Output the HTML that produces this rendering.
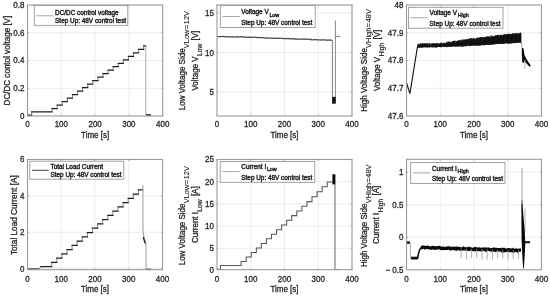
<!DOCTYPE html><html><head><meta charset="utf-8"><style>html,body{margin:0;padding:0;background:#fff;width:550px;height:297px;overflow:hidden}svg{display:block;filter:blur(0.35px)}</style></head><body><svg width="550" height="297" viewBox="0 0 550 297">
<style>.t{font-family:"Liberation Sans", sans-serif;font-size:8.6px;fill:#262626;stroke:#262626;stroke-width:0.3px} .lg{font-family:"Liberation Sans", sans-serif;font-size:6.4px;fill:#262626;stroke:#262626;stroke-width:0.42px} .sb{font-size:5.4px}</style>
<rect width="550" height="297" fill="#fff"/>
<line x1="61.30" y1="5.0" x2="61.30" y2="116.0" stroke="#e9e9e9" stroke-width="0.8"/>
<line x1="95.10" y1="5.0" x2="95.10" y2="116.0" stroke="#e9e9e9" stroke-width="0.8"/>
<line x1="128.90" y1="5.0" x2="128.90" y2="116.0" stroke="#e9e9e9" stroke-width="0.8"/>
<line x1="27.5" y1="88.25" x2="162.7" y2="88.25" stroke="#e9e9e9" stroke-width="0.8"/>
<line x1="27.5" y1="60.50" x2="162.7" y2="60.50" stroke="#e9e9e9" stroke-width="0.8"/>
<line x1="27.5" y1="32.75" x2="162.7" y2="32.75" stroke="#e9e9e9" stroke-width="0.8"/>
<line x1="250.75" y1="5.0" x2="250.75" y2="116.0" stroke="#e9e9e9" stroke-width="0.8"/>
<line x1="284.50" y1="5.0" x2="284.50" y2="116.0" stroke="#e9e9e9" stroke-width="0.8"/>
<line x1="318.25" y1="5.0" x2="318.25" y2="116.0" stroke="#e9e9e9" stroke-width="0.8"/>
<line x1="217.0" y1="92.21" x2="352.0" y2="92.21" stroke="#e9e9e9" stroke-width="0.8"/>
<line x1="217.0" y1="52.57" x2="352.0" y2="52.57" stroke="#e9e9e9" stroke-width="0.8"/>
<line x1="217.0" y1="12.93" x2="352.0" y2="12.93" stroke="#e9e9e9" stroke-width="0.8"/>
<line x1="440.25" y1="5.0" x2="440.25" y2="116.0" stroke="#e9e9e9" stroke-width="0.8"/>
<line x1="474.00" y1="5.0" x2="474.00" y2="116.0" stroke="#e9e9e9" stroke-width="0.8"/>
<line x1="507.75" y1="5.0" x2="507.75" y2="116.0" stroke="#e9e9e9" stroke-width="0.8"/>
<line x1="406.5" y1="88.25" x2="541.5" y2="88.25" stroke="#e9e9e9" stroke-width="0.8"/>
<line x1="406.5" y1="60.50" x2="541.5" y2="60.50" stroke="#e9e9e9" stroke-width="0.8"/>
<line x1="406.5" y1="32.75" x2="541.5" y2="32.75" stroke="#e9e9e9" stroke-width="0.8"/>
<line x1="61.25" y1="159.5" x2="61.25" y2="269.7" stroke="#e9e9e9" stroke-width="0.8"/>
<line x1="95.00" y1="159.5" x2="95.00" y2="269.7" stroke="#e9e9e9" stroke-width="0.8"/>
<line x1="128.75" y1="159.5" x2="128.75" y2="269.7" stroke="#e9e9e9" stroke-width="0.8"/>
<line x1="27.5" y1="268.60" x2="162.5" y2="268.60" stroke="#e9e9e9" stroke-width="0.8"/>
<line x1="27.5" y1="232.20" x2="162.5" y2="232.20" stroke="#e9e9e9" stroke-width="0.8"/>
<line x1="27.5" y1="195.90" x2="162.5" y2="195.90" stroke="#e9e9e9" stroke-width="0.8"/>
<line x1="250.75" y1="159.5" x2="250.75" y2="269.7" stroke="#e9e9e9" stroke-width="0.8"/>
<line x1="284.50" y1="159.5" x2="284.50" y2="269.7" stroke="#e9e9e9" stroke-width="0.8"/>
<line x1="318.25" y1="159.5" x2="318.25" y2="269.7" stroke="#e9e9e9" stroke-width="0.8"/>
<line x1="217.0" y1="248.30" x2="352.0" y2="248.30" stroke="#e9e9e9" stroke-width="0.8"/>
<line x1="217.0" y1="226.10" x2="352.0" y2="226.10" stroke="#e9e9e9" stroke-width="0.8"/>
<line x1="217.0" y1="203.90" x2="352.0" y2="203.90" stroke="#e9e9e9" stroke-width="0.8"/>
<line x1="217.0" y1="181.60" x2="352.0" y2="181.60" stroke="#e9e9e9" stroke-width="0.8"/>
<line x1="440.25" y1="159.3" x2="440.25" y2="269.8" stroke="#e9e9e9" stroke-width="0.8"/>
<line x1="474.00" y1="159.3" x2="474.00" y2="269.8" stroke="#e9e9e9" stroke-width="0.8"/>
<line x1="507.75" y1="159.3" x2="507.75" y2="269.8" stroke="#e9e9e9" stroke-width="0.8"/>
<line x1="406.5" y1="237.30" x2="541.5" y2="237.30" stroke="#e9e9e9" stroke-width="0.8"/>
<line x1="406.5" y1="204.80" x2="541.5" y2="204.80" stroke="#e9e9e9" stroke-width="0.8"/>
<line x1="406.5" y1="172.30" x2="541.5" y2="172.30" stroke="#e9e9e9" stroke-width="0.8"/>
<path d="M31.70,115.10 V111.90 M52.10,111.90 V108.50 M57.19,108.50 V105.02 M62.28,105.02 V101.54 M67.37,101.54 V98.06 M72.46,98.06 V94.58 M77.55,94.58 V91.10 M82.63,91.10 V87.62 M87.72,87.62 V84.14 M92.81,84.14 V80.66 M97.90,80.66 V77.18 M102.99,77.18 V73.70 M108.08,73.70 V70.22 M113.17,70.22 V66.74 M118.26,66.74 V63.26 M123.35,63.26 V59.78 M128.44,59.78 V56.30 M133.52,56.30 V52.82 M138.61,52.82 V49.34 M143.70,49.34 V45.86" fill="none" stroke="#7a7a7a" stroke-width="0.85" stroke-linejoin="miter" />
<path d="M27.60,115.10 H31.70 M31.70,111.90 H52.10 M52.10,108.50 H57.19 M57.19,105.02 H62.28 M62.28,101.54 H67.37 M67.37,98.06 H72.46 M72.46,94.58 H77.55 M77.55,91.10 H82.63 M82.63,87.62 H87.72 M87.72,84.14 H92.81 M92.81,80.66 H97.90 M97.90,77.18 H102.99 M102.99,73.70 H108.08 M108.08,70.22 H113.17 M113.17,66.74 H118.26 M118.26,63.26 H123.35 M123.35,59.78 H128.44 M128.44,56.30 H133.52 M133.52,52.82 H138.61 M138.61,49.34 H143.70 M143.70,45.86 H145.70" fill="none" stroke="#1e1e1e" stroke-width="1.25" stroke-linejoin="miter" stroke-linecap="square"/>
<path d="M145.75,45.9 V115.2" fill="none" stroke="#a0a0a0" stroke-width="0.9" stroke-linejoin="miter" />
<path d="M146,115.0 H151" fill="none" stroke="#000" stroke-width="1.4" stroke-linejoin="miter" />
<path d="M217.0,36.47 L218.0,36.64 L219.0,36.56 L220.0,36.69 L221.0,36.72 L222.0,36.45 L223.0,36.44 L224.0,36.87 L225.0,36.59 L226.0,36.60 L227.0,36.99 L228.0,36.74 L229.0,36.94 L230.0,36.77 L231.0,36.87 L232.0,36.64 L233.0,36.90 L234.0,37.03 L235.0,36.87 L236.0,36.99 L237.0,36.97 L238.0,36.68 L239.0,37.04 L240.0,36.97 L241.0,36.84 L242.0,36.72 L243.0,37.15 L244.0,36.97 L245.0,37.11 L246.0,37.23 L247.0,37.18 L248.0,37.32 L249.0,37.10 L250.0,37.34 L251.0,37.20 L252.0,37.48 L253.0,37.49 L254.0,37.14 L255.0,37.20 L256.0,37.27 L257.0,37.69 L258.0,37.46 L259.0,37.59 L260.0,37.47 L261.0,37.61 L262.0,37.59 L263.0,37.61 L264.0,37.76 L265.0,37.80 L266.0,38.00 L267.0,37.92 L268.0,38.08 L269.0,38.09 L270.0,38.19 L271.0,38.07 L272.0,37.85 L273.0,38.24 L274.0,38.33 L275.0,38.34 L276.0,38.21 L277.0,38.32 L278.0,38.10 L279.0,38.45 L280.0,38.36 L281.0,38.25 L282.0,38.18 L283.0,38.61 L284.0,38.72 L285.0,38.31 L286.0,38.70 L287.0,38.54 L288.0,38.45 L289.0,38.56 L290.0,38.84 L291.0,38.93 L292.0,38.55 L293.0,38.87 L294.0,38.62 L295.0,39.00 L296.0,38.84 L297.0,39.16 L298.0,39.24 L299.0,39.04 L300.0,39.33 L301.0,39.02 L302.0,38.94 L303.0,39.24 L304.0,39.00 L305.0,39.12 L306.0,39.26 L307.0,39.40 L308.0,39.21 L309.0,39.19 L310.0,39.64 L311.0,39.40 L312.0,39.76 L313.0,39.77 L314.0,39.55 L315.0,39.63 L316.0,39.69 L317.0,39.79 L318.0,39.81 L319.0,39.83 L320.0,39.90 L321.0,40.09 L322.0,39.91 L323.0,39.91 L324.0,40.10 L325.0,39.89 L326.0,39.96 L327.0,40.34 L328.0,40.15 L329.0,40.20 L330.0,39.97 L331.0,40.21 L332.0,40.33 L332.3,40.3" fill="none" stroke="#4a4a4a" stroke-width="1.25" stroke-linejoin="miter" />
<path d="M332.4,40.3 V97" fill="none" stroke="#707070" stroke-width="0.9" stroke-linejoin="miter" />
<path d="M335.4,20.6 V97" fill="none" stroke="#7a7a7a" stroke-width="0.9" stroke-linejoin="miter" />
<rect x="332.1" y="96.9" width="3.7" height="6.8" fill="#111"/>
<path d="M335.4,36.6 H340.5" fill="none" stroke="#666" stroke-width="0.8" stroke-linejoin="miter" />
<path d="M417.90,44.35 V47.81 M418.35,44.29 V47.63 M418.80,43.65 V47.45 M419.25,45.37 V47.76 M419.70,43.86 V47.77 M420.15,43.84 V47.60 M420.60,43.57 V47.39 M421.05,43.51 V47.36 M421.50,44.18 V47.71 M421.95,43.45 V47.47 M422.40,43.28 V47.47 M422.85,43.34 V47.57 M423.30,43.89 V46.96 M423.75,43.47 V47.52 M424.20,44.05 V46.91 M424.65,43.24 V47.49 M425.10,43.63 V46.89 M425.55,43.38 V47.35 M426.00,43.94 V47.01 M426.45,43.52 V47.40 M426.90,43.20 V47.24 M427.35,43.73 V47.44 M427.80,43.12 V47.63 M428.25,44.57 V46.66 M428.70,44.58 V47.30 M429.15,43.08 V46.69 M429.60,43.60 V47.58 M430.05,43.05 V47.44 M430.50,45.35 V46.73 M430.95,43.53 V46.54 M431.40,45.09 V47.21 M431.85,43.23 V47.21 M432.30,43.66 V47.49 M432.75,43.41 V47.27 M433.20,43.43 V47.12 M433.65,43.18 V47.28 M434.10,43.06 V47.25 M434.55,43.99 V47.09 M435.00,43.84 V47.48 M435.45,43.37 V47.38 M435.90,43.55 V47.40 M436.35,44.00 V47.45 M436.80,42.99 V47.34 M437.25,42.97 V47.29 M437.70,43.02 V47.05 M438.15,43.32 V46.91 M438.60,44.58 V47.02 M439.05,44.00 V46.94 M439.50,43.38 V46.92 M439.95,43.62 V46.79 M440.40,43.26 V47.19 M440.85,42.79 V46.87 M441.30,43.02 V47.27 M441.75,42.54 V47.16 M442.20,43.67 V46.87 M442.65,43.37 V46.56 M443.10,44.47 V46.74 M443.55,42.95 V46.40 M444.00,42.69 V46.57 M444.45,43.27 V46.86 M444.90,43.14 V47.09 M445.35,44.19 V47.01 M445.80,42.84 V46.55 M446.25,42.69 V46.14 M446.70,41.79 V47.06 M447.15,43.79 V47.11 M447.60,41.83 V47.09 M448.05,42.75 V46.78 M448.50,41.70 V46.79 M448.95,41.43 V46.61 M449.40,41.86 V46.82 M449.85,42.00 V46.79 M450.30,42.21 V46.64 M450.75,41.58 V46.27 M451.20,41.89 V46.98 M451.65,43.14 V46.86 M452.10,41.69 V46.71 M452.55,40.98 V46.68 M453.00,41.12 V46.35 M453.45,40.88 V46.21 M453.90,41.01 V46.21 M454.35,41.20 V46.41 M454.80,40.60 V46.82 M455.25,40.82 V46.71 M455.70,42.93 V46.12 M456.15,41.31 V46.80 M456.60,40.97 V46.07 M457.05,41.36 V46.76 M457.50,41.10 V46.36 M457.95,40.61 V46.75 M458.40,40.26 V46.08 M458.85,40.30 V46.50 M459.30,39.95 V46.46 M459.75,40.80 V45.94 M460.20,40.19 V46.43 M460.65,41.98 V46.53 M461.10,39.83 V46.27 M461.55,39.63 V46.66 M462.00,40.28 V46.47 M462.45,40.97 V46.05 M462.90,39.74 V46.60 M463.35,39.51 V46.44 M463.80,39.54 V46.52 M464.25,40.06 V46.01 M464.70,39.44 V45.89 M465.15,39.27 V46.22 M465.60,40.03 V46.38 M466.05,39.58 V46.15 M466.50,39.11 V45.77 M466.95,39.25 V45.82 M467.40,39.41 V45.50 M467.85,40.21 V45.61 M468.30,38.82 V45.73 M468.75,39.05 V45.92 M469.20,38.64 V46.17 M469.65,38.49 V45.68 M470.10,38.75 V45.97 M470.55,38.48 V46.14 M471.00,38.30 V45.36 M471.45,38.57 V45.75 M471.90,38.25 V45.70 M472.35,39.26 V45.88 M472.80,38.24 V45.31 M473.25,38.24 V45.60 M473.70,38.38 V45.29 M474.15,38.28 V45.62 M474.60,38.68 V45.88 M475.05,39.93 V45.09 M475.50,38.99 V45.16 M475.95,38.48 V45.69 M476.40,38.60 V45.77 M476.85,37.99 V45.41 M477.30,37.43 V45.79 M477.75,37.79 V45.30 M478.20,37.74 V45.68 M478.65,38.04 V45.60 M479.10,38.02 V45.49 M479.55,37.41 V45.51 M480.00,37.21 V45.54 M480.45,37.02 V45.42 M480.90,37.49 V45.40 M481.35,36.99 V45.31 M481.80,38.09 V44.86 M482.25,36.78 V45.05 M482.70,37.95 V45.07 M483.15,37.68 V44.88 M483.60,36.97 V45.26 M484.05,37.58 V45.38 M484.50,37.33 V45.02 M484.95,37.52 V45.15 M485.40,36.95 V44.34 M485.85,36.70 V44.92 M486.30,37.50 V45.05 M486.75,36.21 V44.95 M487.20,36.23 V44.87 M487.65,37.17 V44.99 M488.10,36.98 V44.63 M488.55,36.56 V44.94 M489.00,36.49 V44.92 M489.45,37.55 V44.84 M489.90,36.36 V44.71 M490.35,36.71 V44.67 M490.80,35.65 V44.57 M491.25,37.10 V44.69 M491.70,35.45 V44.52 M492.15,37.41 V44.55 M492.60,36.37 V44.72 M493.05,36.35 V44.66 M493.50,36.06 V43.91 M493.95,35.93 V44.67 M494.40,36.54 V44.15 M494.85,36.46 V43.96 M495.30,35.17 V44.48 M495.75,35.46 V43.99 M496.20,35.40 V43.88 M496.65,35.29 V44.04 M497.10,35.26 V44.16 M497.55,34.89 V43.95 M498.00,35.23 V43.78 M498.45,34.82 V43.97 M498.90,36.30 V43.77 M499.35,35.91 V43.63 M499.80,35.06 V43.76 M500.25,34.99 V43.93 M500.70,34.48 V43.84 M501.15,35.00 V44.03 M501.60,35.44 V43.83 M502.05,35.51 V43.89 M502.50,35.57 V43.63 M502.95,34.67 V44.05 M503.40,35.21 V43.67 M503.85,34.30 V43.46 M504.30,34.17 V43.85 M504.75,34.12 V43.92 M505.20,35.65 V42.96 M505.65,34.13 V43.00 M506.10,34.61 V43.24 M506.55,34.35 V43.31 M507.00,34.79 V43.22 M507.45,33.91 V43.49 M507.90,35.19 V43.59 M508.35,33.90 V43.72 M508.80,33.65 V43.18 M509.25,33.92 V43.46 M509.70,34.12 V43.63 M510.15,33.87 V43.43 M510.60,34.42 V43.23 M511.05,34.31 V43.48 M511.50,34.02 V43.39 M511.95,34.66 V42.78 M512.40,33.32 V42.94 M512.85,33.68 V43.21 M513.30,33.25 V43.17 M513.75,33.31 V42.76 M514.20,34.15 V43.10 M514.65,33.57 V43.09 M515.10,34.39 V42.84 M515.55,33.13 V43.11 M516.00,32.93 V42.41 M516.45,34.22 V43.02 M516.90,33.07 V42.75 M517.35,33.57 V42.98 M517.80,33.00 V42.73 M518.25,33.58 V42.43 M518.70,33.76 V42.08 M519.15,33.37 V42.84 M519.60,32.92 V42.82 M520.05,34.33 V42.59 M520.50,32.57 V42.84 M520.95,33.08 V42.78" fill="none" stroke="#050505" stroke-width="0.85" stroke-linejoin="miter" />
<path d="M406.6,83 L409.9,93.7 L417.7,45.3" fill="none" stroke="#111" stroke-width="1.1" stroke-linejoin="miter" />
<path d="M521.5,42 L522,48" fill="none" stroke="#888" stroke-width="0.8" stroke-linejoin="miter" />
<polygon points="521.8,48 523.4,48 524.5,55 527,60 530.8,65.5 529.6,66.8 525.5,62.5 524.5,60.5 523.6,63 522.3,62.5 521.8,55" fill="#0a0a0a"/>
<path d="M524.8,60 V69" fill="none" stroke="#aaa" stroke-width="0.9" stroke-linejoin="miter" />
<path d="M27.6,269.0 H38.7" fill="none" stroke="#1e1e1e" stroke-width="1.25" stroke-linejoin="miter" />
<path d="M38.7,269.0 C39.6,269.0 39.8,266.6 41,266.6" fill="none" stroke="#555" stroke-width="1.0" stroke-linejoin="miter" />
<path d="M51.70,266.60 V262.40 M56.80,262.40 V258.13 M61.90,258.13 V253.86 M67.00,253.86 V249.59 M72.10,249.59 V245.32 M77.20,245.32 V241.05 M82.30,241.05 V236.78 M87.40,236.78 V232.51 M92.50,232.51 V228.24 M97.60,228.24 V223.97 M102.70,223.97 V219.70 M107.80,219.70 V215.43 M112.90,215.43 V211.16 M118.00,211.16 V206.89 M123.10,206.89 V202.62 M128.20,202.62 V198.35 M133.30,198.35 V194.08 M138.40,194.08 V189.81" fill="none" stroke="#7a7a7a" stroke-width="0.85" stroke-linejoin="miter" />
<path d="M41.00,266.60 H51.70 M51.70,262.40 H56.80 M56.80,258.13 H61.90 M61.90,253.86 H67.00 M67.00,249.59 H72.10 M72.10,245.32 H77.20 M77.20,241.05 H82.30 M82.30,236.78 H87.40 M87.40,232.51 H92.50 M92.50,228.24 H97.60 M97.60,223.97 H102.70 M102.70,219.70 H107.80 M107.80,215.43 H112.90 M112.90,211.16 H118.00 M118.00,206.89 H123.10 M123.10,202.62 H128.20 M128.20,198.35 H133.30 M133.30,194.08 H138.40 M138.40,189.81 H142.60" fill="none" stroke="#1e1e1e" stroke-width="1.25" stroke-linejoin="miter" stroke-linecap="square"/>
<path d="M142.9,185.5 V226 C143,234 143.8,238 145.2,242 L146,244.5 V269.3" fill="none" stroke="#aaa" stroke-width="1.2" stroke-linejoin="miter" />
<path d="M143.3,237 C143.8,239 144.4,241 145.4,243.5" fill="none" stroke="#222" stroke-width="1.3" stroke-linejoin="miter" />
<path d="M146.3,269.4 H151" fill="none" stroke="#111" stroke-width="1.4" stroke-linejoin="miter" />
<path d="M217.20,269.20 L220.50,269.20 L220.50,265.40 L241.10,265.40 L241.10,261.40 L246.16,261.40 L246.16,256.90 L251.23,256.90 L251.23,252.40 L256.30,252.40 L256.30,247.90 L261.36,247.90 L261.36,243.40 L266.43,243.40 L266.43,238.80 L271.49,238.80 L271.49,234.30 L276.56,234.30 L276.56,229.75 L281.62,229.75 L281.62,225.00 L286.69,225.00 L286.69,220.30 L291.75,220.30 L291.75,215.60 L296.81,215.60 L296.81,210.90 L301.88,210.90 L301.88,206.30 L306.94,206.30 L306.94,201.60 L312.01,201.60 L312.01,196.80 L317.07,196.80 L317.07,191.80 L322.14,191.80 L322.14,186.70 L327.20,186.70 L327.20,181.90 L332.40,181.90" fill="none" stroke="#575757" stroke-width="1.05" stroke-linejoin="miter" />
<rect x="332.4" y="174.3" width="3.0" height="10.1" fill="#0a0a0a"/>
<path d="M335.0,184 V269.5 H340.5" fill="none" stroke="#555" stroke-width="0.9" stroke-linejoin="miter" />
<path d="M406.7,242.6 H409.9" fill="none" stroke="#111" stroke-width="2.4" stroke-linejoin="miter" />
<path d="M410.4,242.5 V257" fill="none" stroke="#999" stroke-width="0.8" stroke-linejoin="miter" />
<path d="M410.8,258.1 H417.9" fill="none" stroke="#111" stroke-width="2.8" stroke-linejoin="miter" />
<path d="M417.7,258.5 C418.5,252 419.5,248 422,247.3" fill="none" stroke="#111" stroke-width="1.6" stroke-linejoin="miter" />
<path d="M421.0,246.95 L421.8,247.47 L422.6,247.04 L423.4,247.29 L424.2,247.25 L425.0,247.83 L425.8,247.47 L426.6,247.34 L427.4,247.15 L428.2,247.56 L429.0,247.78 L429.8,247.85 L430.6,248.12 L431.4,248.04 L432.2,247.50 L433.0,247.42 L433.8,248.07 L434.6,248.12 L435.4,247.87 L436.2,248.21 L437.0,247.96 L437.8,247.71 L438.6,247.63 L439.4,247.50 L440.2,248.15 L441.0,248.43 L441.8,248.47 L442.6,248.05 L443.4,248.28 L444.2,248.57 L445.0,248.48 L445.8,248.29 L446.6,248.13 L447.4,248.26 L448.2,247.94 L449.0,247.97 L449.8,248.50 L450.6,248.83 L451.4,248.41 L452.2,248.30 L453.0,248.27 L453.8,248.40 L454.6,248.77 L455.4,248.45 L456.2,248.98 L457.0,248.20 L457.8,248.38 L458.6,248.62 L459.4,248.53 L460.2,249.00 L461.0,249.00 L461.8,249.13 L462.6,248.83 L463.4,248.28 L464.2,248.85 L465.0,248.85 L465.8,248.81 L466.6,248.63 L467.4,249.08 L468.2,249.31 L469.0,248.53 L469.8,249.12 L470.6,248.85 L471.4,249.02 L472.2,249.42 L473.0,249.51 L473.8,249.22 L474.6,248.80 L475.4,249.55 L476.2,248.84 L477.0,249.06 L477.8,249.53 L478.6,249.05 L479.4,249.03 L480.2,249.73 L481.0,249.75 L481.8,249.15 L482.6,249.25 L483.4,249.16 L484.2,249.04 L485.0,249.18 L485.8,249.94 L486.6,249.06 L487.4,249.24 L488.2,249.24 L489.0,249.14 L489.8,249.61 L490.6,249.85 L491.4,249.98 L492.2,249.79 L493.0,250.01 L493.8,249.22 L494.6,249.52 L495.4,250.23 L496.2,249.36 L497.0,249.58 L497.8,249.82 L498.6,249.63 L499.4,249.94 L500.2,249.46 L501.0,249.68 L501.8,250.43 L502.6,249.64 L503.4,250.42 L504.2,249.72 L505.0,250.56 L505.8,250.27 L506.6,250.27 L507.4,249.79 L508.2,249.73 L509.0,250.46 L509.8,249.90 L510.6,249.94 L511.4,250.60 L512.2,250.67 L513.0,249.87 L513.8,250.81 L514.6,250.41 L515.4,250.28 L516.2,250.03 L517.0,250.34 L517.8,250.96 L518.6,250.28 L519.4,250.16 L520.2,250.20 L521.0,250.20" fill="none" stroke="#0a0a0a" stroke-width="3.3" stroke-linejoin="miter" />
<path d="M461.2,248.4 V258.4" fill="none" stroke="#9a9a9a" stroke-width="0.8" stroke-linejoin="miter" />
<path d="M466.4,248.6 V259.5" fill="none" stroke="#9a9a9a" stroke-width="0.8" stroke-linejoin="miter" />
<path d="M471.6,248.8 V257.9" fill="none" stroke="#9a9a9a" stroke-width="0.8" stroke-linejoin="miter" />
<path d="M476.8,248.9 V258.1" fill="none" stroke="#9a9a9a" stroke-width="0.8" stroke-linejoin="miter" />
<path d="M482.0,249.1 V259.6" fill="none" stroke="#9a9a9a" stroke-width="0.8" stroke-linejoin="miter" />
<path d="M487.2,249.3 V259.7" fill="none" stroke="#9a9a9a" stroke-width="0.8" stroke-linejoin="miter" />
<path d="M492.4,249.5 V259.7" fill="none" stroke="#9a9a9a" stroke-width="0.8" stroke-linejoin="miter" />
<path d="M497.6,249.7 V258.2" fill="none" stroke="#9a9a9a" stroke-width="0.8" stroke-linejoin="miter" />
<path d="M502.8,249.8 V258.4" fill="none" stroke="#9a9a9a" stroke-width="0.8" stroke-linejoin="miter" />
<path d="M508.0,250.0 V259.6" fill="none" stroke="#9a9a9a" stroke-width="0.8" stroke-linejoin="miter" />
<path d="M513.2,250.2 V258.7" fill="none" stroke="#9a9a9a" stroke-width="0.8" stroke-linejoin="miter" />
<path d="M518.4,250.4 V259.1" fill="none" stroke="#9a9a9a" stroke-width="0.8" stroke-linejoin="miter" />
<path d="M522.0,167.8 V205" fill="none" stroke="#9a9a9a" stroke-width="0.9" stroke-linejoin="miter" />
<path d="M522.0,200 V212" fill="none" stroke="#6a6a6a" stroke-width="1.0" stroke-linejoin="miter" />
<path d="M525.0,209 V232" fill="none" stroke="#a8a8a8" stroke-width="0.9" stroke-linejoin="miter" />
<polygon points="521.6,204 522.5,204 523.6,218 524.8,232 525.3,244 524.6,258 523.9,268.5 523.2,268.5 522.4,258 521.6,240 521.4,220" fill="#0a0a0a"/>
<path d="M524.9,242.2 H530.1" fill="none" stroke="#111" stroke-width="2.0" stroke-linejoin="miter" />
<rect x="27.5" y="5.0" width="135.20" height="111.00" fill="none" stroke="#9a9a9a" stroke-width="1.1"/>
<line x1="27.50" y1="116.0" x2="27.50" y2="114.6" stroke="#9a9a9a" stroke-width="0.8"/>
<line x1="27.50" y1="5.0" x2="27.50" y2="6.4" stroke="#9a9a9a" stroke-width="0.8"/>
<line x1="61.30" y1="116.0" x2="61.30" y2="114.6" stroke="#9a9a9a" stroke-width="0.8"/>
<line x1="61.30" y1="5.0" x2="61.30" y2="6.4" stroke="#9a9a9a" stroke-width="0.8"/>
<line x1="95.10" y1="116.0" x2="95.10" y2="114.6" stroke="#9a9a9a" stroke-width="0.8"/>
<line x1="95.10" y1="5.0" x2="95.10" y2="6.4" stroke="#9a9a9a" stroke-width="0.8"/>
<line x1="128.90" y1="116.0" x2="128.90" y2="114.6" stroke="#9a9a9a" stroke-width="0.8"/>
<line x1="128.90" y1="5.0" x2="128.90" y2="6.4" stroke="#9a9a9a" stroke-width="0.8"/>
<line x1="162.70" y1="116.0" x2="162.70" y2="114.6" stroke="#9a9a9a" stroke-width="0.8"/>
<line x1="162.70" y1="5.0" x2="162.70" y2="6.4" stroke="#9a9a9a" stroke-width="0.8"/>
<line x1="27.5" y1="88.25" x2="28.9" y2="88.25" stroke="#9a9a9a" stroke-width="0.8"/>
<line x1="162.7" y1="88.25" x2="161.29999999999998" y2="88.25" stroke="#9a9a9a" stroke-width="0.8"/>
<line x1="27.5" y1="60.50" x2="28.9" y2="60.50" stroke="#9a9a9a" stroke-width="0.8"/>
<line x1="162.7" y1="60.50" x2="161.29999999999998" y2="60.50" stroke="#9a9a9a" stroke-width="0.8"/>
<line x1="27.5" y1="32.75" x2="28.9" y2="32.75" stroke="#9a9a9a" stroke-width="0.8"/>
<line x1="162.7" y1="32.75" x2="161.29999999999998" y2="32.75" stroke="#9a9a9a" stroke-width="0.8"/>
<text transform="translate(27.50,127.10) scale(0.93,1)" text-anchor="middle" class="t">0</text>
<text transform="translate(61.30,127.10) scale(0.93,1)" text-anchor="middle" class="t">100</text>
<text transform="translate(95.10,127.10) scale(0.93,1)" text-anchor="middle" class="t">200</text>
<text transform="translate(128.90,127.10) scale(0.93,1)" text-anchor="middle" class="t">300</text>
<text transform="translate(162.70,127.10) scale(0.93,1)" text-anchor="middle" class="t">400</text>
<text transform="translate(24.40,118.95) scale(0.93,1)" text-anchor="end" class="t">0</text>
<text transform="translate(24.40,91.20) scale(0.93,1)" text-anchor="end" class="t">0.2</text>
<text transform="translate(24.40,63.45) scale(0.93,1)" text-anchor="end" class="t">0.4</text>
<text transform="translate(24.40,35.70) scale(0.93,1)" text-anchor="end" class="t">0.6</text>
<text transform="translate(24.40,7.95) scale(0.93,1)" text-anchor="end" class="t">0.8</text>
<text transform="translate(95.10,138.00) scale(0.93,1)" text-anchor="middle" class="t">Time [s]</text>
<rect x="217.0" y="5.0" width="135.00" height="111.00" fill="none" stroke="#9a9a9a" stroke-width="1.1"/>
<line x1="217.00" y1="116.0" x2="217.00" y2="114.6" stroke="#9a9a9a" stroke-width="0.8"/>
<line x1="217.00" y1="5.0" x2="217.00" y2="6.4" stroke="#9a9a9a" stroke-width="0.8"/>
<line x1="250.75" y1="116.0" x2="250.75" y2="114.6" stroke="#9a9a9a" stroke-width="0.8"/>
<line x1="250.75" y1="5.0" x2="250.75" y2="6.4" stroke="#9a9a9a" stroke-width="0.8"/>
<line x1="284.50" y1="116.0" x2="284.50" y2="114.6" stroke="#9a9a9a" stroke-width="0.8"/>
<line x1="284.50" y1="5.0" x2="284.50" y2="6.4" stroke="#9a9a9a" stroke-width="0.8"/>
<line x1="318.25" y1="116.0" x2="318.25" y2="114.6" stroke="#9a9a9a" stroke-width="0.8"/>
<line x1="318.25" y1="5.0" x2="318.25" y2="6.4" stroke="#9a9a9a" stroke-width="0.8"/>
<line x1="352.00" y1="116.0" x2="352.00" y2="114.6" stroke="#9a9a9a" stroke-width="0.8"/>
<line x1="352.00" y1="5.0" x2="352.00" y2="6.4" stroke="#9a9a9a" stroke-width="0.8"/>
<line x1="217.0" y1="92.21" x2="218.4" y2="92.21" stroke="#9a9a9a" stroke-width="0.8"/>
<line x1="352.0" y1="92.21" x2="350.6" y2="92.21" stroke="#9a9a9a" stroke-width="0.8"/>
<line x1="217.0" y1="52.57" x2="218.4" y2="52.57" stroke="#9a9a9a" stroke-width="0.8"/>
<line x1="352.0" y1="52.57" x2="350.6" y2="52.57" stroke="#9a9a9a" stroke-width="0.8"/>
<line x1="217.0" y1="12.93" x2="218.4" y2="12.93" stroke="#9a9a9a" stroke-width="0.8"/>
<line x1="352.0" y1="12.93" x2="350.6" y2="12.93" stroke="#9a9a9a" stroke-width="0.8"/>
<text transform="translate(217.00,127.10) scale(0.93,1)" text-anchor="middle" class="t">0</text>
<text transform="translate(250.75,127.10) scale(0.93,1)" text-anchor="middle" class="t">100</text>
<text transform="translate(284.50,127.10) scale(0.93,1)" text-anchor="middle" class="t">200</text>
<text transform="translate(318.25,127.10) scale(0.93,1)" text-anchor="middle" class="t">300</text>
<text transform="translate(352.00,127.10) scale(0.93,1)" text-anchor="middle" class="t">400</text>
<text transform="translate(213.90,95.16) scale(0.93,1)" text-anchor="end" class="t">5</text>
<text transform="translate(213.90,55.52) scale(0.93,1)" text-anchor="end" class="t">10</text>
<text transform="translate(213.90,15.88) scale(0.93,1)" text-anchor="end" class="t">15</text>
<text transform="translate(284.50,138.00) scale(0.93,1)" text-anchor="middle" class="t">Time [s]</text>
<rect x="406.5" y="5.0" width="135.00" height="111.00" fill="none" stroke="#9a9a9a" stroke-width="1.1"/>
<line x1="406.50" y1="116.0" x2="406.50" y2="114.6" stroke="#9a9a9a" stroke-width="0.8"/>
<line x1="406.50" y1="5.0" x2="406.50" y2="6.4" stroke="#9a9a9a" stroke-width="0.8"/>
<line x1="440.25" y1="116.0" x2="440.25" y2="114.6" stroke="#9a9a9a" stroke-width="0.8"/>
<line x1="440.25" y1="5.0" x2="440.25" y2="6.4" stroke="#9a9a9a" stroke-width="0.8"/>
<line x1="474.00" y1="116.0" x2="474.00" y2="114.6" stroke="#9a9a9a" stroke-width="0.8"/>
<line x1="474.00" y1="5.0" x2="474.00" y2="6.4" stroke="#9a9a9a" stroke-width="0.8"/>
<line x1="507.75" y1="116.0" x2="507.75" y2="114.6" stroke="#9a9a9a" stroke-width="0.8"/>
<line x1="507.75" y1="5.0" x2="507.75" y2="6.4" stroke="#9a9a9a" stroke-width="0.8"/>
<line x1="541.50" y1="116.0" x2="541.50" y2="114.6" stroke="#9a9a9a" stroke-width="0.8"/>
<line x1="541.50" y1="5.0" x2="541.50" y2="6.4" stroke="#9a9a9a" stroke-width="0.8"/>
<line x1="406.5" y1="88.25" x2="407.9" y2="88.25" stroke="#9a9a9a" stroke-width="0.8"/>
<line x1="541.5" y1="88.25" x2="540.1" y2="88.25" stroke="#9a9a9a" stroke-width="0.8"/>
<line x1="406.5" y1="60.50" x2="407.9" y2="60.50" stroke="#9a9a9a" stroke-width="0.8"/>
<line x1="541.5" y1="60.50" x2="540.1" y2="60.50" stroke="#9a9a9a" stroke-width="0.8"/>
<line x1="406.5" y1="32.75" x2="407.9" y2="32.75" stroke="#9a9a9a" stroke-width="0.8"/>
<line x1="541.5" y1="32.75" x2="540.1" y2="32.75" stroke="#9a9a9a" stroke-width="0.8"/>
<text transform="translate(406.50,127.10) scale(0.93,1)" text-anchor="middle" class="t">0</text>
<text transform="translate(440.25,127.10) scale(0.93,1)" text-anchor="middle" class="t">100</text>
<text transform="translate(474.00,127.10) scale(0.93,1)" text-anchor="middle" class="t">200</text>
<text transform="translate(507.75,127.10) scale(0.93,1)" text-anchor="middle" class="t">300</text>
<text transform="translate(541.50,127.10) scale(0.93,1)" text-anchor="middle" class="t">400</text>
<text transform="translate(403.40,118.95) scale(0.93,1)" text-anchor="end" class="t">47.6</text>
<text transform="translate(403.40,91.20) scale(0.93,1)" text-anchor="end" class="t">47.7</text>
<text transform="translate(403.40,63.45) scale(0.93,1)" text-anchor="end" class="t">47.8</text>
<text transform="translate(403.40,35.70) scale(0.93,1)" text-anchor="end" class="t">47.9</text>
<text transform="translate(403.40,7.95) scale(0.93,1)" text-anchor="end" class="t">48</text>
<text transform="translate(474.00,138.00) scale(0.93,1)" text-anchor="middle" class="t">Time [s]</text>
<rect x="27.5" y="159.5" width="135.00" height="110.20" fill="none" stroke="#9a9a9a" stroke-width="1.1"/>
<line x1="27.50" y1="269.7" x2="27.50" y2="268.3" stroke="#9a9a9a" stroke-width="0.8"/>
<line x1="27.50" y1="159.5" x2="27.50" y2="160.9" stroke="#9a9a9a" stroke-width="0.8"/>
<line x1="61.25" y1="269.7" x2="61.25" y2="268.3" stroke="#9a9a9a" stroke-width="0.8"/>
<line x1="61.25" y1="159.5" x2="61.25" y2="160.9" stroke="#9a9a9a" stroke-width="0.8"/>
<line x1="95.00" y1="269.7" x2="95.00" y2="268.3" stroke="#9a9a9a" stroke-width="0.8"/>
<line x1="95.00" y1="159.5" x2="95.00" y2="160.9" stroke="#9a9a9a" stroke-width="0.8"/>
<line x1="128.75" y1="269.7" x2="128.75" y2="268.3" stroke="#9a9a9a" stroke-width="0.8"/>
<line x1="128.75" y1="159.5" x2="128.75" y2="160.9" stroke="#9a9a9a" stroke-width="0.8"/>
<line x1="162.50" y1="269.7" x2="162.50" y2="268.3" stroke="#9a9a9a" stroke-width="0.8"/>
<line x1="162.50" y1="159.5" x2="162.50" y2="160.9" stroke="#9a9a9a" stroke-width="0.8"/>
<line x1="27.5" y1="268.60" x2="28.9" y2="268.60" stroke="#9a9a9a" stroke-width="0.8"/>
<line x1="162.5" y1="268.60" x2="161.1" y2="268.60" stroke="#9a9a9a" stroke-width="0.8"/>
<line x1="27.5" y1="232.20" x2="28.9" y2="232.20" stroke="#9a9a9a" stroke-width="0.8"/>
<line x1="162.5" y1="232.20" x2="161.1" y2="232.20" stroke="#9a9a9a" stroke-width="0.8"/>
<line x1="27.5" y1="195.90" x2="28.9" y2="195.90" stroke="#9a9a9a" stroke-width="0.8"/>
<line x1="162.5" y1="195.90" x2="161.1" y2="195.90" stroke="#9a9a9a" stroke-width="0.8"/>
<text transform="translate(27.50,282.00) scale(0.93,1)" text-anchor="middle" class="t">0</text>
<text transform="translate(61.25,282.00) scale(0.93,1)" text-anchor="middle" class="t">100</text>
<text transform="translate(95.00,282.00) scale(0.93,1)" text-anchor="middle" class="t">200</text>
<text transform="translate(128.75,282.00) scale(0.93,1)" text-anchor="middle" class="t">300</text>
<text transform="translate(162.50,282.00) scale(0.93,1)" text-anchor="middle" class="t">400</text>
<text transform="translate(24.40,271.55) scale(0.93,1)" text-anchor="end" class="t">0</text>
<text transform="translate(24.40,235.15) scale(0.93,1)" text-anchor="end" class="t">2</text>
<text transform="translate(24.40,198.85) scale(0.93,1)" text-anchor="end" class="t">4</text>
<text transform="translate(24.40,162.45) scale(0.93,1)" text-anchor="end" class="t">6</text>
<text transform="translate(95.00,291.70) scale(0.93,1)" text-anchor="middle" class="t">Time [s]</text>
<rect x="217.0" y="159.5" width="135.00" height="110.20" fill="none" stroke="#9a9a9a" stroke-width="1.1"/>
<line x1="217.00" y1="269.7" x2="217.00" y2="268.3" stroke="#9a9a9a" stroke-width="0.8"/>
<line x1="217.00" y1="159.5" x2="217.00" y2="160.9" stroke="#9a9a9a" stroke-width="0.8"/>
<line x1="250.75" y1="269.7" x2="250.75" y2="268.3" stroke="#9a9a9a" stroke-width="0.8"/>
<line x1="250.75" y1="159.5" x2="250.75" y2="160.9" stroke="#9a9a9a" stroke-width="0.8"/>
<line x1="284.50" y1="269.7" x2="284.50" y2="268.3" stroke="#9a9a9a" stroke-width="0.8"/>
<line x1="284.50" y1="159.5" x2="284.50" y2="160.9" stroke="#9a9a9a" stroke-width="0.8"/>
<line x1="318.25" y1="269.7" x2="318.25" y2="268.3" stroke="#9a9a9a" stroke-width="0.8"/>
<line x1="318.25" y1="159.5" x2="318.25" y2="160.9" stroke="#9a9a9a" stroke-width="0.8"/>
<line x1="352.00" y1="269.7" x2="352.00" y2="268.3" stroke="#9a9a9a" stroke-width="0.8"/>
<line x1="352.00" y1="159.5" x2="352.00" y2="160.9" stroke="#9a9a9a" stroke-width="0.8"/>
<line x1="217.0" y1="248.30" x2="218.4" y2="248.30" stroke="#9a9a9a" stroke-width="0.8"/>
<line x1="352.0" y1="248.30" x2="350.6" y2="248.30" stroke="#9a9a9a" stroke-width="0.8"/>
<line x1="217.0" y1="226.10" x2="218.4" y2="226.10" stroke="#9a9a9a" stroke-width="0.8"/>
<line x1="352.0" y1="226.10" x2="350.6" y2="226.10" stroke="#9a9a9a" stroke-width="0.8"/>
<line x1="217.0" y1="203.90" x2="218.4" y2="203.90" stroke="#9a9a9a" stroke-width="0.8"/>
<line x1="352.0" y1="203.90" x2="350.6" y2="203.90" stroke="#9a9a9a" stroke-width="0.8"/>
<line x1="217.0" y1="181.60" x2="218.4" y2="181.60" stroke="#9a9a9a" stroke-width="0.8"/>
<line x1="352.0" y1="181.60" x2="350.6" y2="181.60" stroke="#9a9a9a" stroke-width="0.8"/>
<text transform="translate(217.00,282.00) scale(0.93,1)" text-anchor="middle" class="t">0</text>
<text transform="translate(250.75,282.00) scale(0.93,1)" text-anchor="middle" class="t">100</text>
<text transform="translate(284.50,282.00) scale(0.93,1)" text-anchor="middle" class="t">200</text>
<text transform="translate(318.25,282.00) scale(0.93,1)" text-anchor="middle" class="t">300</text>
<text transform="translate(352.00,282.00) scale(0.93,1)" text-anchor="middle" class="t">400</text>
<text transform="translate(213.90,273.35) scale(0.93,1)" text-anchor="end" class="t">0</text>
<text transform="translate(213.90,251.25) scale(0.93,1)" text-anchor="end" class="t">5</text>
<text transform="translate(213.90,229.05) scale(0.93,1)" text-anchor="end" class="t">10</text>
<text transform="translate(213.90,206.85) scale(0.93,1)" text-anchor="end" class="t">15</text>
<text transform="translate(213.90,184.55) scale(0.93,1)" text-anchor="end" class="t">20</text>
<text transform="translate(213.90,162.45) scale(0.93,1)" text-anchor="end" class="t">25</text>
<text transform="translate(284.50,291.70) scale(0.93,1)" text-anchor="middle" class="t">Time [s]</text>
<rect x="406.5" y="159.3" width="135.00" height="110.50" fill="none" stroke="#9a9a9a" stroke-width="1.1"/>
<line x1="406.50" y1="269.8" x2="406.50" y2="268.40000000000003" stroke="#9a9a9a" stroke-width="0.8"/>
<line x1="406.50" y1="159.3" x2="406.50" y2="160.70000000000002" stroke="#9a9a9a" stroke-width="0.8"/>
<line x1="440.25" y1="269.8" x2="440.25" y2="268.40000000000003" stroke="#9a9a9a" stroke-width="0.8"/>
<line x1="440.25" y1="159.3" x2="440.25" y2="160.70000000000002" stroke="#9a9a9a" stroke-width="0.8"/>
<line x1="474.00" y1="269.8" x2="474.00" y2="268.40000000000003" stroke="#9a9a9a" stroke-width="0.8"/>
<line x1="474.00" y1="159.3" x2="474.00" y2="160.70000000000002" stroke="#9a9a9a" stroke-width="0.8"/>
<line x1="507.75" y1="269.8" x2="507.75" y2="268.40000000000003" stroke="#9a9a9a" stroke-width="0.8"/>
<line x1="507.75" y1="159.3" x2="507.75" y2="160.70000000000002" stroke="#9a9a9a" stroke-width="0.8"/>
<line x1="541.50" y1="269.8" x2="541.50" y2="268.40000000000003" stroke="#9a9a9a" stroke-width="0.8"/>
<line x1="541.50" y1="159.3" x2="541.50" y2="160.70000000000002" stroke="#9a9a9a" stroke-width="0.8"/>
<line x1="406.5" y1="237.30" x2="407.9" y2="237.30" stroke="#9a9a9a" stroke-width="0.8"/>
<line x1="541.5" y1="237.30" x2="540.1" y2="237.30" stroke="#9a9a9a" stroke-width="0.8"/>
<line x1="406.5" y1="204.80" x2="407.9" y2="204.80" stroke="#9a9a9a" stroke-width="0.8"/>
<line x1="541.5" y1="204.80" x2="540.1" y2="204.80" stroke="#9a9a9a" stroke-width="0.8"/>
<line x1="406.5" y1="172.30" x2="407.9" y2="172.30" stroke="#9a9a9a" stroke-width="0.8"/>
<line x1="541.5" y1="172.30" x2="540.1" y2="172.30" stroke="#9a9a9a" stroke-width="0.8"/>
<text transform="translate(406.50,282.10) scale(0.93,1)" text-anchor="middle" class="t">0</text>
<text transform="translate(440.25,282.10) scale(0.93,1)" text-anchor="middle" class="t">100</text>
<text transform="translate(474.00,282.10) scale(0.93,1)" text-anchor="middle" class="t">200</text>
<text transform="translate(507.75,282.10) scale(0.93,1)" text-anchor="middle" class="t">300</text>
<text transform="translate(541.50,282.10) scale(0.93,1)" text-anchor="middle" class="t">400</text>
<text transform="translate(403.40,272.75) scale(0.93,1)" text-anchor="end" class="t">− 0.5</text>
<text transform="translate(403.40,240.25) scale(0.93,1)" text-anchor="end" class="t">0</text>
<text transform="translate(403.40,207.75) scale(0.93,1)" text-anchor="end" class="t">0.5</text>
<text transform="translate(403.40,175.25) scale(0.93,1)" text-anchor="end" class="t">1</text>
<text transform="translate(474.00,291.80) scale(0.93,1)" text-anchor="middle" class="t">Time [s]</text>
<rect x="34.3" y="5.4" width="93.50" height="19.90" fill="#fff" stroke="#8c8c8c" stroke-width="0.8"/>
<line x1="36.1" y1="15.8" x2="53.8" y2="15.8" stroke="#a8a8a8" stroke-width="1"/>
<text x="55.1" y="14.7" class="lg">DC/DC control voltage</text>
<text x="55.1" y="23.2" class="lg">Step Up: 48V control test</text>
<rect x="220.3" y="5.4" width="94.90" height="22.10" fill="#fff" stroke="#8c8c8c" stroke-width="0.8"/>
<line x1="222.3" y1="16.5" x2="239.8" y2="16.5" stroke="#a8a8a8" stroke-width="1"/>
<text x="241.3" y="14.4" class="lg">Voltage V<tspan class="sb" dy="2.3" dx="0.7">Low</tspan><tspan dy="-2.3"> </tspan></text>
<text x="241.3" y="25.0" class="lg">Step Up: 48V control test</text>
<rect x="408.4" y="7.3" width="94.60" height="20.90" fill="#fff" stroke="#8c8c8c" stroke-width="0.8"/>
<line x1="410.4" y1="17.8" x2="427.4" y2="17.8" stroke="#a8a8a8" stroke-width="1"/>
<text x="429.6" y="15.0" class="lg">Voltage V<tspan class="sb" dy="2.3" dx="0.7">High</tspan><tspan dy="-2.3"> </tspan></text>
<text x="429.6" y="26.3" class="lg">Step Up: 48V control test</text>
<rect x="29.8" y="161.2" width="94.00" height="18.00" fill="#fff" stroke="#8c8c8c" stroke-width="0.8"/>
<line x1="31.9" y1="170.3" x2="48.7" y2="170.3" stroke="#444" stroke-width="1"/>
<text x="50.5" y="168.6" class="lg">Total Load Current</text>
<text x="50.5" y="177.0" class="lg">Step Up: 48V control test</text>
<rect x="220.2" y="161.5" width="94.60" height="20.80" fill="#fff" stroke="#8c8c8c" stroke-width="0.8"/>
<line x1="222.4" y1="171.6" x2="239.8" y2="171.6" stroke="#a8a8a8" stroke-width="1"/>
<text x="241.3" y="169.0" class="lg">Current I<tspan class="sb" dy="2.3" dx="0.7">Low</tspan><tspan dy="-2.3"> </tspan></text>
<text x="241.3" y="180.3" class="lg">Step Up: 48V control test</text>
<rect x="410.7" y="162.4" width="94.30" height="21.00" fill="#fff" stroke="#8c8c8c" stroke-width="0.8"/>
<line x1="413.0" y1="172.9" x2="430.2" y2="172.9" stroke="#a8a8a8" stroke-width="1"/>
<text x="432.0" y="170.6" class="lg">Current I<tspan class="sb" dy="2.3" dx="0.7">High</tspan><tspan dy="-2.3"> </tspan></text>
<text x="432.0" y="181.0" class="lg">Step Up: 48V control test</text>
<text transform="translate(10.2,60.6) rotate(-90) scale(0.94,1)" text-anchor="middle" class="t">DC/DC contol voltage [V]</text>
<text transform="translate(17.4,215.2) rotate(-90) scale(0.955,1)" text-anchor="middle" class="t">Total Load Current [A]</text>
<style>.sb2{font-size:8.0px;stroke-width:0.12px} .sb3{font-size:7.2px;stroke-width:0.2px}</style>
<text transform="translate(184.8,60.6) rotate(-90) scale(0.93,1)" text-anchor="middle" class="t">Low Voltage Side<tspan class="sb2" dy="4" dx="0.3">VLow</tspan><tspan class="sb2" dx="0.5">=</tspan><tspan class="sb2" dx="0.5">12V</tspan></text>
<text transform="translate(198.0,60.6) rotate(-90) scale(0.93,1)" text-anchor="middle" class="t">Voltage V<tspan class="sb3" dy="4" dx="0.3">Low</tspan><tspan dy="-4" dx="1.2"> [V]</tspan></text>
<text transform="translate(367.4,60.4) rotate(-90) scale(0.93,1)" text-anchor="middle" class="t">High Voltage Side<tspan class="sb2" dy="4" dx="0.3">VHigh</tspan><tspan class="sb2" dx="0.5">=</tspan><tspan class="sb2" dx="0.5">48V</tspan></text>
<text transform="translate(380.2,60.4) rotate(-90) scale(0.93,1)" text-anchor="middle" class="t">Voltage V<tspan class="sb3" dy="4" dx="0.3">High</tspan><tspan dy="-4" dx="1.2"> [V]</tspan></text>
<text transform="translate(184.8,215.7) rotate(-90) scale(0.93,1)" text-anchor="middle" class="t">Low Voltage Side<tspan class="sb2" dy="4" dx="0.3">VLow</tspan><tspan class="sb2" dx="0.5">=</tspan><tspan class="sb2" dx="0.5">12V</tspan></text>
<text transform="translate(198.0,214.7) rotate(-90) scale(0.93,1)" text-anchor="middle" class="t">Current I<tspan class="sb3" dy="4" dx="0.3">Low</tspan><tspan dy="-4" dx="1.2"> [A]</tspan></text>
<text transform="translate(367.0,215.8) rotate(-90) scale(0.93,1)" text-anchor="middle" class="t">High Voltage Side<tspan class="sb2" dy="4" dx="0.3">VHigh</tspan><tspan class="sb2" dx="0.5">=</tspan><tspan class="sb2" dx="0.5">48V</tspan></text>
<text transform="translate(378.9,214.8) rotate(-90) scale(0.93,1)" text-anchor="middle" class="t">Current I<tspan class="sb3" dy="4" dx="0.3">High</tspan><tspan dy="-4" dx="1.2"> [A]</tspan></text>
</svg></body></html>
